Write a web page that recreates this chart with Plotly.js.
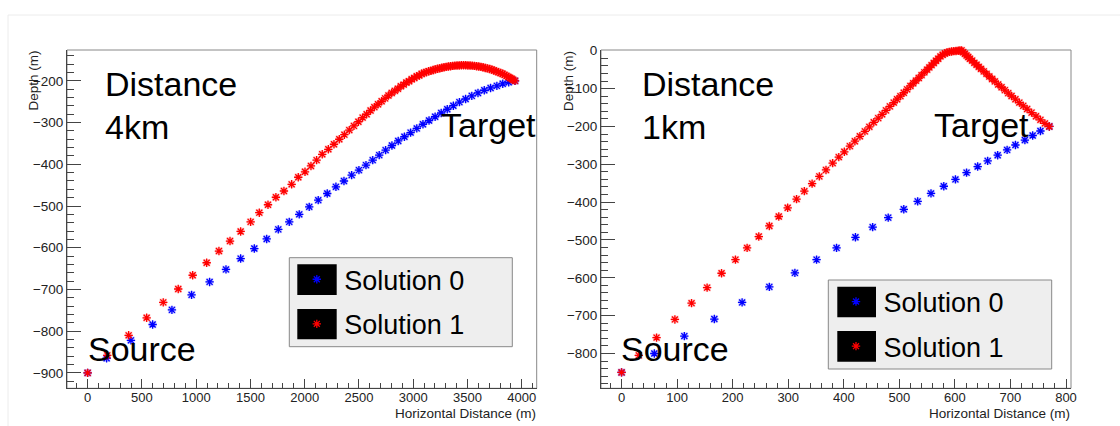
<!DOCTYPE html>
<html><head><meta charset="utf-8">
<script src="https://cdn.plot.ly/plotly-3.0.1.min.js"></script>
<style>html,body{margin:0;padding:0;background:#fff}#chart{width:1120px;height:426px}</style>
</head><body><div id="chart"></div>
<script>
// ---- Data: left panel (Distance 4km) ----
const leftSol0X = [0,175,399,599,777,958,1124,1275,1410,1536,1650,1757,1858,1950,2042,2125,2208,2288,2362,2433,2500,2565,2627,2687,2746,2804,2862,2919,2976,3033,3090,3146,3202,3258,3314,3370,3426,3483,3540,3597,3655,3713,3771,3825,3880,3938];
const leftSol0Y = [-900,-865,-822,-784,-749,-713,-682,-652,-626,-602,-579,-556,-538,-520,-502,-486,-470,-454,-440,-426,-414,-402,-390,-378,-366,-355,-344,-334,-324,-314,-304,-295,-286,-277,-268,-259.5,-251,-243.5,-236,-229,-222.5,-217,-212,-207,-203.5,-200];
const leftSol1X = [0,181,378,544,697,835,968,1097,1210,1312,1410,1502,1582,1662,1735,1809,1880,1941,2003,2058,2110,2162,2218,2270,2319,2366,2411,2454,2495,2534,2571,2607,2642,2676,2709,2741,2772,2802,2831,2859,2886,2912,2937,2962,2986,3010,3033,3056,3078,3100,3121,3142,3163,3184,3204,3224,3244,3264,3284,3304,3324,3344,3364,3384,3404,3424,3444,3464,3484,3504,3524,3544,3564,3584,3604,3624,3644,3664,3684,3704,3724,3744,3764,3784,3804,3823,3842,3860,3877,3893,3908,3922,3938];
const leftSol1Y = [-900,-858,-810,-768,-731,-699,-666,-636,-608,-584,-561,-538,-516,-497,-479,-464,-448,-431,-418,-404,-390,-376,-364,-352,-340,-329,-318,-308,-298,-288,-280,-271,-263,-256,-249,-242,-235,-229,-224,-219,-213,-209,-204,-201,-196,-193,-189,-187,-183,-181,-179,-177,-176,-174,-172.5,-171,-170,-168.5,-167.5,-166.5,-165.5,-165,-164,-163.5,-163,-163,-162.5,-162.5,-162.5,-163,-163,-163.5,-164,-165,-165.5,-166.5,-167.5,-169,-170,-171.5,-173,-175,-177,-179,-181,-183,-185.5,-188,-190.5,-193,-195,-197.5,-200];

// ---- Data: right panel (Distance 1km) ----
const rightSol0X = [0,59,113,167,217,266,312,351,387,421,452,480,508,533,557,580,601,621,641,659,677,694,709,726,740,754,770];
const rightSol0Y = [-850,-800,-754,-709,-665,-624,-587,-552,-521,-493,-466,-441,-419,-398,-377,-358,-340,-322,-306,-291,-276,-262,-249,-236,-224,-212,-200];
const rightSol1X = [0,31,63,96,126,154,180,205,226,247,266,283,299,315,329,343,356,368,380,391,401,411,420,429,438,446,454,462,469,476,483,490,496,502,508,514,520,525,530,535,540,545,550,554,558,562,566,570,574,578,582,586,590,594,598,602,606,609,612,615,618,621,624,627,631,635,639,643,647,652,657,662,667,672,678,684,690,696,702,709,716,723,730,738,746,754,762,770];
const rightSol1Y = [-850,-805,-758,-710,-667,-626,-588,-552,-521,-491,-463,-438,-415,-392,-371,-351,-332,-315,-297,-281,-267,-252,-239,-226,-213,-201,-189,-178,-168,-157.5,-147,-137,-128,-120,-111,-102,-93,-86,-79,-72,-64.5,-57,-50,-44,-38,-32.5,-26.5,-21,-15,-10.5,-7,-4.5,-3,-2,-1,-0.5,0,0.5,1,-4,-8,-12.5,-16.5,-21,-26,-32,-37,-42.5,-48,-54.5,-61,-68,-74.5,-81,-89,-96.5,-104,-112,-119.5,-128,-137,-145.5,-154,-163.5,-173,-182.5,-192,-200];

const seriesNames = ['Solution 0','Solution 1'];
const seriesColors = ['#0000ff','#ff0000'];
const haloColors = ['rgba(0,0,255,0.2)','rgba(255,0,0,0.2)'];
const panelLabels = [['Distance','4km'],['Distance','1km']];

const FONT = '"Liberation Sans", Arial, Helvetica, sans-serif';
const W = 1120, H = 426;
const px = v => v / W;
const py = v => 1 - v / H;

function pair(xs, ys, i, xa, ya, leg) {
  return [
    {x: xs, y: ys, xaxis: xa, yaxis: ya, type: 'scatter', mode: 'markers', showlegend: false,
     hoverinfo: 'skip', cliponaxis: false,
     marker: {symbol: 'square', size: 7.5, color: haloColors[i], line: {width: 0}}},
    {x: xs, y: ys, xaxis: xa, yaxis: ya, type: 'scatter', mode: 'markers', name: seriesNames[i],
     legend: leg, legendgroup: leg + i, cliponaxis: false,
     marker: {symbol: 'asterisk-open', size: 7, color: seriesColors[i], line: {width: 1.3, color: seriesColors[i]}}}
  ];
}

const data = [].concat(
  pair(leftSol0X, leftSol0Y, 0, 'x', 'y', 'legend'),
  pair(leftSol1X, leftSol1Y, 1, 'x', 'y', 'legend'),
  pair(rightSol0X, rightSol0Y, 0, 'x2', 'y2', 'legend2'),
  pair(rightSol1X, rightSol1Y, 1, 'x2', 'y2', 'legend2')
);

const tickFont = {family: FONT, size: 13.5, color: '#222'};
const xTickFont = {family: FONT, size: 13, color: '#222'};
function axisCommon(extra) {
  return Object.assign({
    showgrid: false, zeroline: false, showline: true, linecolor: '#444', linewidth: 1,
    ticks: 'inside', tickcolor: '#444', tickfont: tickFont, tick0: 0,
    fixedrange: true
  }, extra);
}

const yDom = [py(388.3), py(50)];
const legendCommon = {xanchor: 'left', yanchor: 'top', bgcolor: 'rgba(0,0,0,0)',
  borderwidth: 0, font: {family: FONT, size: 27, color: '#000'}, itemwidth: 45,
  traceorder: 'grouped', tracegroupgap: 6.5};
const layout = {
  width: W, height: H,
  margin: {l: 0, r: 0, t: 0, b: 0},
  paper_bgcolor: '#ffffff', plot_bgcolor: '#ffffff',
  font: {family: FONT},
  xaxis: axisCommon({domain: [px(67), px(536.7)], range: [-190, 4138], dtick: 500, ticklen: 9,
    ticklabelstandoff: -3, tickfont: xTickFont,
    minor: {ticks: 'inside', ticklen: 5, dtick: 100, tickcolor: '#444'}, anchor: 'y'}),
  yaxis: axisCommon({domain: yDom, range: [-937, -126], dtick: 100, ticklen: 14,
    minor: {ticks: 'inside', ticklen: 7, dtick: 20, tickcolor: '#444'}, anchor: 'x'}),
  xaxis2: axisCommon({domain: [px(601), px(1071)], range: [-37, 809], dtick: 100, ticklen: 9,
    ticklabelstandoff: -3, tickfont: xTickFont,
    minor: {ticks: 'inside', ticklen: 5, dtick: 20, tickcolor: '#444'}, anchor: 'y2'}),
  yaxis2: axisCommon({domain: yDom, range: [-892, 2], dtick: 100, ticklen: 14,
    minor: {ticks: 'inside', ticklen: 7, dtick: 20, tickcolor: '#444'}, anchor: 'x2'}),
  legend: Object.assign({x: px(289.3), y: py(255.2)}, legendCommon),
  legend2: Object.assign({x: px(828.5), y: py(277.5)}, legendCommon),
  shapes: [
    // figure frame
    {type: 'line', xref: 'paper', yref: 'paper', x0: px(8), x1: px(8), y0: 0, y1: py(15), line: {color: '#ececec', width: 1}},
    {type: 'line', xref: 'paper', yref: 'paper', x0: px(8), x1: 1, y0: py(15), y1: py(15), line: {color: '#ececec', width: 1}},
    // plot frames
    {type: 'rect', xref: 'x domain', yref: 'y domain', x0: 0, x1: 1, y0: 0, y1: 1, layer: 'below', line: {color: '#888', width: 1}},
    {type: 'rect', xref: 'x2 domain', yref: 'y2 domain', x0: 0, x1: 1, y0: 0, y1: 1, layer: 'below', line: {color: '#888', width: 1}},
    // legend boxes
    {type: 'rect', xref: 'paper', yref: 'paper', x0: px(289.3), x1: px(512.3), y0: py(346.7), y1: py(257.7), fillcolor: '#eeeeee', line: {color: '#888', width: 1}},
    {type: 'rect', xref: 'paper', yref: 'paper', x0: px(297.3), x1: px(336.7), y0: py(295), y1: py(264.3), fillcolor: '#000', line: {width: 0}},
    {type: 'rect', xref: 'paper', yref: 'paper', x0: px(297.3), x1: px(336.7), y0: py(339.3), y1: py(309), fillcolor: '#000', line: {width: 0}},
    {type: 'rect', xref: 'paper', yref: 'paper', x0: px(828.3), x1: px(1051.7), y0: py(369), y1: py(280), fillcolor: '#eeeeee', line: {color: '#888', width: 1}},
    {type: 'rect', xref: 'paper', yref: 'paper', x0: px(837.3), x1: px(876), y0: py(317.3), y1: py(286.7), fillcolor: '#000', line: {width: 0}},
    {type: 'rect', xref: 'paper', yref: 'paper', x0: px(837.3), x1: px(876), y0: py(361.7), y1: py(331), fillcolor: '#000', line: {width: 0}}
  ],
  annotations: []
};

function ann(text, x, y, xanchor, size, extra) {
  layout.annotations.push(Object.assign({
    text: text, xref: 'paper', yref: 'paper', x: px(x), y: py(y), xanchor: xanchor, yanchor: 'middle',
    showarrow: false, font: {family: FONT, size: size, color: '#000'}, borderpad: 0
  }, extra || {}));
}
// panel texts
ann(panelLabels[0][0], 104, 84.2, 'left', 34);
ann(panelLabels[0][1], 104, 126.8, 'left', 34);
ann('Target', 537, 125.2, 'right', 34);
ann('Source', 86.5, 348.5, 'left', 34);
ann(panelLabels[1][0], 640.5, 83.5, 'left', 34);
ann(panelLabels[1][1], 640.5, 126.5, 'left', 34);
ann('Target', 1030, 125.2, 'right', 34);
ann('Source', 620, 348.5, 'left', 34);
// axis titles
const titleFont = {family: FONT, size: 13.5, color: '#222'};
ann('Horizontal Distance (m)', 536.7, 413, 'right', 13.5, {font: titleFont});
ann('Horizontal Distance (m)', 1071, 413, 'right', 13.5, {font: titleFont});
ann('Depth (m)', 32.5, 50, 'center', 13.5, {textangle: -90, yanchor: 'top', font: {family: FONT, size: 13.5, color: '#222'}});
ann('Depth (m)', 568, 50, 'center', 13.5, {textangle: -90, yanchor: 'top', font: {family: FONT, size: 13.5, color: '#222'}});

Plotly.newPlot('chart', data, layout, {displayModeBar: false, staticPlot: true});
</script>
</body></html>
